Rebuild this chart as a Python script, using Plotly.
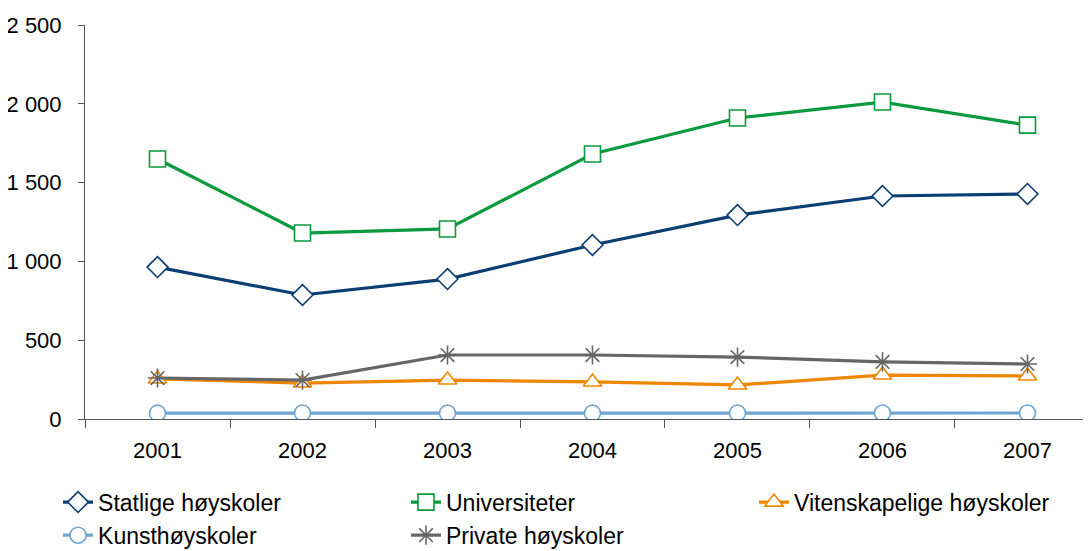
import plotly.graph_objects as go

years = ["2001", "2002", "2003", "2004", "2005", "2006", "2007"]
statlige = [964, 787, 888, 1104, 1294, 1415, 1428]
universiteter = [1650, 1180, 1206, 1681, 1910, 2011, 1865]
vitenskapelige = [254, 228, 247, 235, 216, 279, 273]
kunst = [37, 38, 37, 37, 38, 38, 38]
private = [260, 247, 406, 406, 393, 362, 349]

series = [
    ("Statlige høyskoler", statlige, "#0B3F73", "diamond"),
    ("Universiteter", universiteter, "#0A9A3E", "square"),
    ("Vitenskapelige høyskoler", vitenskapelige, "#EE8600", "triangle-up"),
    ("Kunsthøyskoler", kunst, "#6FA6D2", "circle"),
    ("Private høyskoler", private, "#666666", "asterisk-open"),
]

# legend slots (container fractions): x, y for each series
legend_pos = [(0.0462, 0.0900), (0.3675, 0.0900), (0.6888, 0.0900),
              (0.0462, 0.0290), (0.3675, 0.0290)]

fig = go.Figure()
for i, (name, vals, color, sym) in enumerate(series):
    # asterisk is drawn with strokes only, so it takes the line colour as fill colour
    fill = color if sym == "asterisk-open" else "white"
    fig.add_trace(go.Scatter(
        x=years, y=vals, name=name, mode="lines+markers",
        line=dict(color=color, width=3.2),
        marker=dict(symbol=sym, size=16, color=fill,
                    line=dict(color=color, width=1.6)),
        legend="legend" if i == 0 else f"legend{i + 1}",
    ))

font = dict(family="Liberation Sans, Arial, sans-serif", size=22, color="black")
legends = {}
for i, (lx, ly) in enumerate(legend_pos):
    key = "legend" if i == 0 else f"legend{i + 1}"
    legends[key] = dict(
        orientation="h", xref="container", yref="container",
        x=lx, y=ly, xanchor="left", yanchor="middle",
        font=dict(family="Liberation Sans, Arial, sans-serif", size=23, color="black"),
        bgcolor="rgba(0,0,0,0)",
    )

# page body has an 8px default margin, so the figure is sized to fit what is left
fig.update_layout(
    width=1083, height=543,
    margin=dict(l=77, r=0, t=17, b=132),
    paper_bgcolor="white", plot_bgcolor="white",
    font=font,
    separators=", ",
    showlegend=True,
    xaxis=dict(
        type="category", range=[-0.5, 6.438], tickson="boundaries",
        ticks="outside", ticklen=8, tickcolor="#555", showline=True,
        linecolor="#555", linewidth=1, showgrid=False, zeroline=False,
        ticklabelstandoff=12,
    ),
    yaxis=dict(
        range=[0, 2500], dtick=500, tickformat=",d", ticks="outside",
        ticklen=6, tickcolor="#555", showline=True, linecolor="#555",
        linewidth=1, showgrid=False, zeroline=False, ticklabelstandoff=12,
    ),
    **legends,
)

fig.write_html("out.html")
